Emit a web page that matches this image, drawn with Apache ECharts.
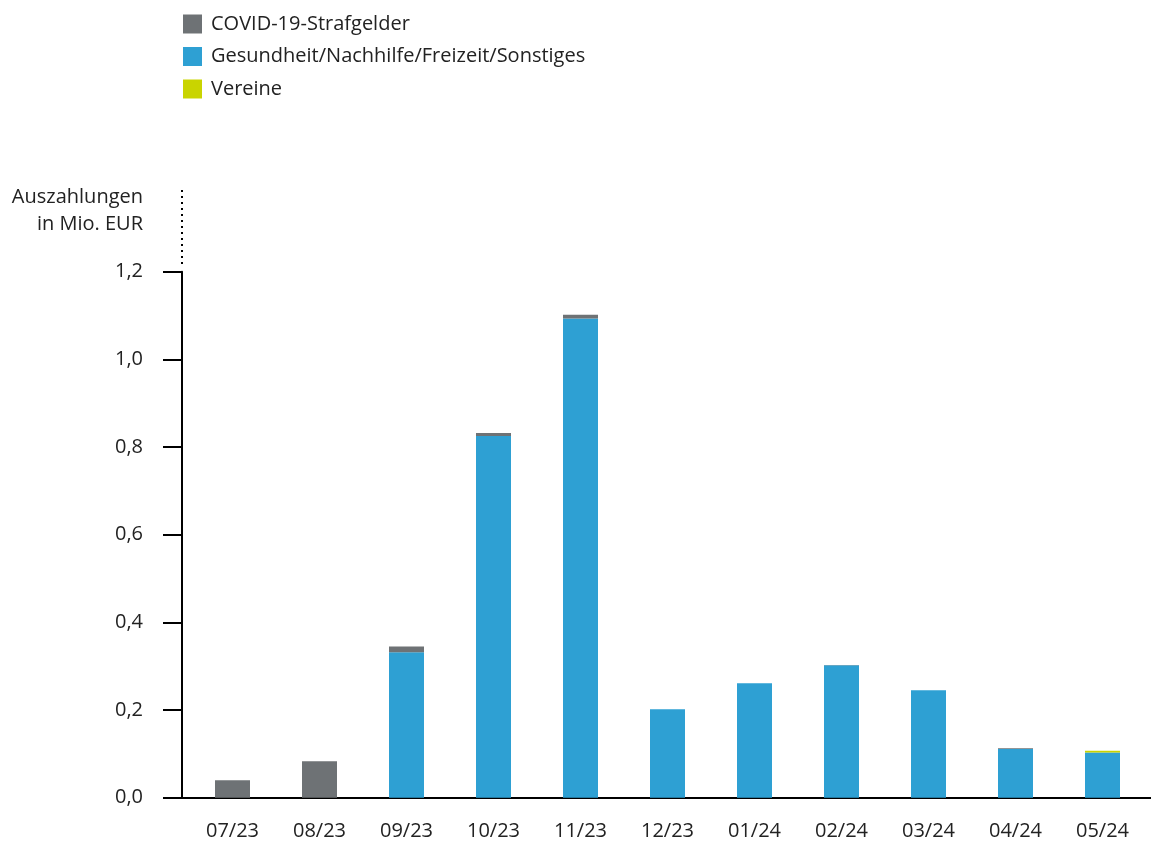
<!DOCTYPE html>
<html><head><meta charset="utf-8">
<script src="https://cdn.jsdelivr.net/npm/echarts@6/dist/echarts.min.js"></script>
<style>html,body{margin:0;padding:0;background:#fff}#c{width:1151px;height:843px}</style>
</head><body><div id="c"></div>
<script>
const categories = ['07/23','08/23','09/23','10/23','11/23','12/23','01/24','02/24','03/24','04/24','05/24'];
const covid = [0.040, 0.083, 0.013, 0.007, 0.009, 0, 0, 0.001, 0, 0.002, 0];
const gesundheit = [0, 0, 0.332, 0.825, 1.093, 0.202, 0.261, 0.302, 0.245, 0.111, 0.103];
const vereine = [0, 0, 0, 0, 0, 0, 0, 0, 0, 0, 0.004];
const yTicks = [0, 0.2, 0.4, 0.6, 0.8, 1.0, 1.2];
const names = ['COVID-19-Strafgelder', 'Gesundheit/Nachhilfe/Freizeit/Sonstiges', 'Vereine'];
const colors = {covid:'#6e7275', ges:'#2ea0d3', ver:'#c9d400'};

const FONT = "'Open Sans', sans-serif";
const FW = 'normal';
const FS = 20;
const chart = echarts.init(document.getElementById('c'));
const gridTop = 271.7, gridBottom = 843 - 797.7;
chart.setOption({
  animation: false,
  textStyle: {fontFamily: FONT},
  legend: {
    orient: 'vertical', left: 178, top: 9,
    itemWidth: 19, itemHeight: 19, itemGap: 12.5,
    icon: 'rect',
    data: names,
    textStyle: {fontSize: FS, lineHeight: 20, color: '#222', fontFamily: FONT, fontWeight: FW, padding: [0,0,0,4]}
  },
  grid: [
    {left: 189, right: 5, top: gridTop, bottom: gridBottom},
    {left: 182, right: 0, top: gridTop, bottom: gridBottom}
  ],
  xAxis: [
    {type: 'category', gridIndex: 0, data: categories,
     axisLine: {show: false}, axisTick: {show: false},
     axisLabel: {margin: 24, fontSize: FS, color: '#222', fontFamily: FONT, fontWeight: FW}},
    {type: 'category', gridIndex: 1, data: [''],
     axisLine: {show: true, lineStyle: {color: '#000', width: 2}},
     axisTick: {show: false}, axisLabel: {show: false}}
  ],
  yAxis: [
    {type: 'value', gridIndex: 0, min: yTicks[0], max: yTicks[yTicks.length-1], interval: 0.2, show: false},
    {type: 'value', gridIndex: 1, min: yTicks[0], max: yTicks[yTicks.length-1], interval: 0.2,
     name: 'Auszahlungen\nin Mio. EUR', nameLocation: 'end', nameGap: 34,
     nameTextStyle: {align: 'right', verticalAlign: 'bottom', fontSize: FS, lineHeight: 27, color: '#222',
       fontFamily: FONT, fontWeight: FW, padding: [0, 39, 0, 0]},
     axisLine: {show: true, lineStyle: {color: '#000', width: 2}},
     axisTick: {show: true, length: 19, lineStyle: {color: '#000', width: 2}},
     splitLine: {show: false},
     axisLabel: {margin: 39, fontSize: FS, color: '#222', fontFamily: FONT, fontWeight: FW,
       formatter: v => v.toFixed(1).replace('.', ',')}}
  ],
  graphic: [{
    type: 'line', shape: {x1: 182, y1: 190, x2: 182, y2: 266},
    style: {stroke: '#000', lineWidth: 2, lineDash: [2, 4]}
  }],
  series: [
    {name: names[1], type: 'bar', stack: 's', barWidth: 35, xAxisIndex: 0, yAxisIndex: 0,
     itemStyle: {color: colors.ges}, data: gesundheit},
    {name: names[0], type: 'bar', stack: 's', barWidth: 35, xAxisIndex: 0, yAxisIndex: 0,
     itemStyle: {color: colors.covid}, data: covid},
    {name: names[2], type: 'bar', stack: 's', barWidth: 35, xAxisIndex: 0, yAxisIndex: 0,
     itemStyle: {color: colors.ver}, data: vereine}
  ]
});
</script></body></html>
